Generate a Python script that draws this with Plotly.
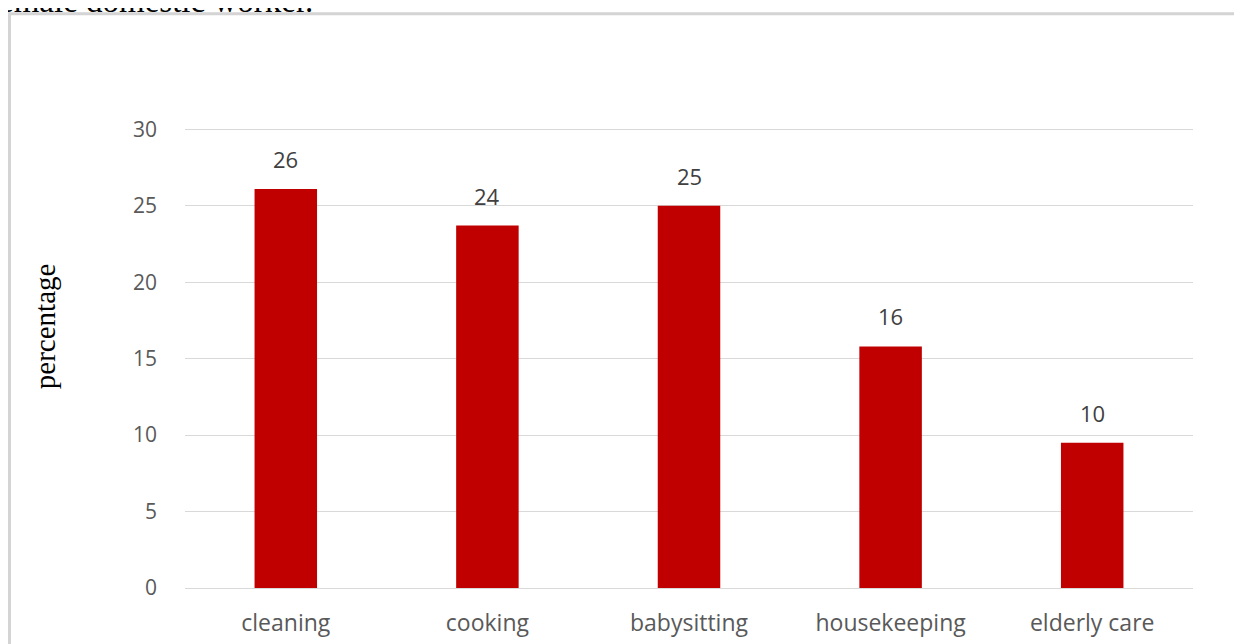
import plotly.graph_objects as go

categories = ["cleaning", "cooking", "babysitting", "housekeeping", "elderly care"]
values = [26.1, 23.7, 25.0, 15.8, 9.5]
labels = ["26", "24", "25", "16", "10"]
y_ticks = [0, 5, 10, 15, 20, 25, 30]

# page has an 8px body margin; work in screen pixels and convert
OFF = 8
YMAX = 30.15
W, H = 1242 - 2 * OFF, 644 - OFF
PL, PR, PB = 185, 1193, 588
PT = PB - (PB - 129) / 30 * YMAX  # so that 30 sits at y=129
L, R, T, B = PL - OFF, W - (PR - OFF), PT - OFF, H - (PB - OFF)
pw, ph = W - L - R, H - T - B

def px_x(p):
    return (p - PL) / pw

def px_y(p):
    return (PB - p) / ph

TICK_FONT = dict(family="Open Sans, Lato, sans-serif", size=21, color="#595959")
XTICK_FONT = dict(family="Open Sans, Lato, sans-serif", size=23, color="#595959")
LABEL_FONT = dict(family="Open Sans, Lato, sans-serif", size=22, color="#404040")

fig = go.Figure()
fig.add_trace(go.Bar(
    x=categories, y=values,
    marker=dict(color="#c00000", line=dict(width=0)),
    width=0.31,
))

annotations = []
for c, v, t in zip(categories, values, labels):
    annotations.append(dict(x=c, y=v, xref="x", yref="y", text=t, showarrow=False,
                            yanchor="bottom", yshift=13, font=LABEL_FONT))

annotations.append(dict(text="percentage", xref="paper", yref="paper",
                        x=px_x(45), y=px_y(326), xanchor="center", yanchor="middle",
                        textangle=-90, showarrow=False,
                        font=dict(family="Liberation Serif, Times New Roman, serif", size=29, color="black")))
annotations.append(dict(text="emale domestic worker.", xref="paper", yref="paper",
                        x=px_x(-3), y=px_y(1), xanchor="left", yanchor="middle", showarrow=False,
                        font=dict(family="Liberation Serif, Times New Roman, serif", size=33, color="black")))

fig.update_layout(
    width=W, height=H,
    margin=dict(l=L, r=R, t=T, b=B, pad=0, autoexpand=False),
    paper_bgcolor="white", plot_bgcolor="white",
    showlegend=False,
    xaxis=dict(showgrid=False, showline=False, ticks="", ticklabelstandoff=19, tickfont=XTICK_FONT,
               automargin=False),
    yaxis=dict(range=[0, YMAX], tickvals=y_ticks, showgrid=True, gridcolor="#d9d9d9", gridwidth=1,
               zeroline=True, zerolinecolor="#d9d9d9", zerolinewidth=1, showline=False,
               ticks="", ticklabelstandoff=27, tickfont=TICK_FONT, automargin=False),
    shapes=[dict(type="rect", xref="paper", yref="paper",
                 x0=px_x(9.5), x1=px_x(1270), y0=px_y(690), y1=px_y(13.5),
                 line=dict(color="#d4d4d4", width=3), fillcolor="rgba(0,0,0,0)", layer="below")],
    annotations=annotations,
)

fig.write_html("out.html")
